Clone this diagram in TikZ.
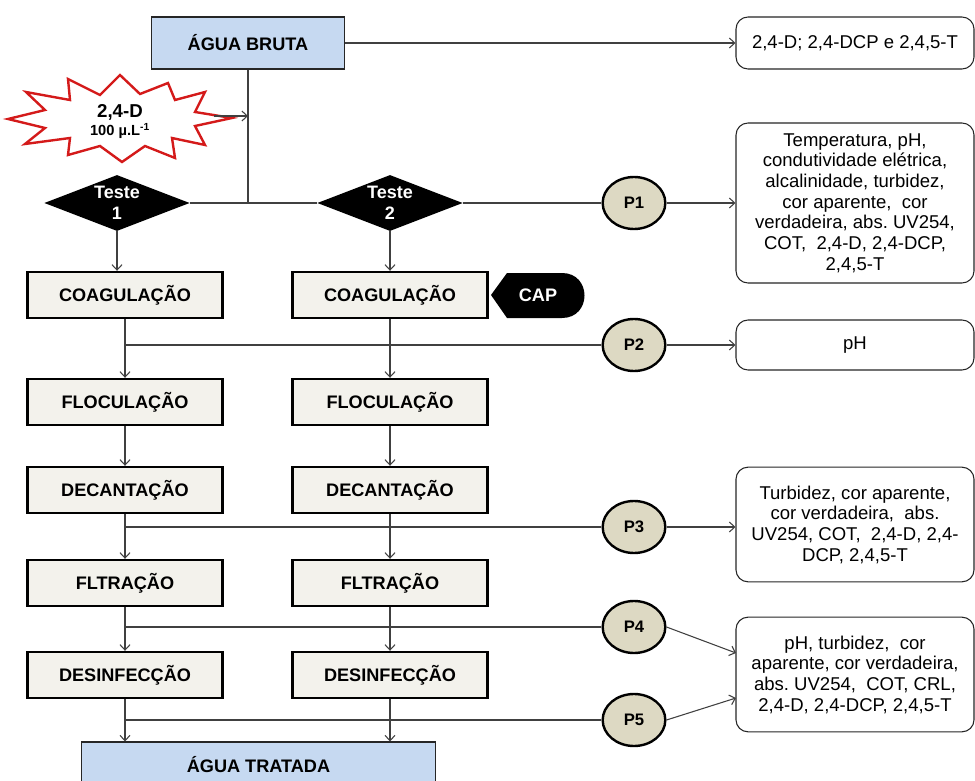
\documentclass[tikz,border=0pt]{standalone}
\usepackage{fontspec}
\setmainfont{Liberation Sans}
\usetikzlibrary{shapes.geometric,arrows.meta}
\definecolor{bluebox}{HTML}{C6D9F1}
\definecolor{procfill}{HTML}{F3F2EC}
\definecolor{pfill}{HTML}{DDD9C3}
\definecolor{linec}{HTML}{404040}
\definecolor{burstc}{HTML}{D41A1A}
\tikzset{
  proc/.style={draw=black, line width=1.8pt, fill=procfill, minimum width=146pt, minimum height=34.5pt, inner sep=0pt, font=\fontsize{13.6}{15}\selectfont\bfseries},
  waterbox/.style={draw=black!85, line width=0.8pt, fill=bluebox, inner sep=0pt, font=\fontsize{13.6}{15}\selectfont\bfseries},
  info/.style={draw=black!85, line width=0.8pt, rounded corners=9pt, fill=white, align=center, inner sep=0pt, minimum width=178.5pt, font=\fontsize{13.9}{15.5}\selectfont},
  ptnode/.style={ellipse, draw=black, line width=1.8pt, fill=pfill, minimum width=47pt, minimum height=39pt, inner sep=0pt, font=\fontsize{12.5}{14}\selectfont\bfseries},
  teste/.style={diamond, fill=black, minimum width=109pt, minimum height=42pt, inner sep=0pt},
  testetxt/.style={text=white, align=center, inner sep=0pt, font=\fontsize{13.5}{16}\selectfont\bfseries},
  conn/.style={draw=linec, line width=0.8pt},
  arr/.style={conn, -{Straight Barb[length=4pt,width=7.5pt]}},
}
\begin{document}
\begin{tikzpicture}[x=0.75pt,y=-0.75pt]
\useasboundingbox (0,0) rectangle (975,781);

% top water box and info box
\node[waterbox, minimum width=145pt, minimum height=39pt] (ab) at (248,43) {ÁGUA BRUTA};
\node[info, minimum height=39pt] (r1) at (855,43) {2,4-D; 2,4-DCP e 2,4,5-T};
\draw[arr] (ab.east) -- (r1.west);

% starburst
\draw[burstc, line width=1.8pt, fill=white, line join=miter]
  (8,119) -- (45,110) -- (26,92) -- (70,100) -- (68,79) -- (100,95) -- (120,75) -- (140,94)
  -- (168,83) -- (175,100) -- (205,92) -- (195,112) -- (232,118) -- (195,126) -- (205,145)
  -- (172,138) -- (175,158) -- (145,146) -- (122,162) -- (100,146) -- (68,155) -- (70,138)
  -- (25,144) -- (45,128) -- cycle;
\node[font=\fontsize{14}{15}\selectfont\bfseries, inner sep=0pt] (bt1) at (120,112) {2,4-D};
\node[font=\fontsize{11}{12}\selectfont\bfseries, inner sep=0pt] (bt2) at (120,131) {100 µ.L\textsuperscript{-1}};
\coordinate (bs) at (214,116);

% diamonds
\node[teste] (t1) at (117,203) {};
\node[testetxt] (t1t) at (t1) {Teste\\1};
\node[teste] (t2) at (390,203) {};
\node[testetxt] (t2t) at (t2) {Teste\\2};
\coordinate (j) at (248,203);
\draw[conn] (ab.south) -- (j);
\draw[arr] (bs) -- (bs -| j);
\draw[conn] (t1.east) -- (t2.west);

% P nodes
\node[ptnode] (p1) at (634,203) {P1};
\node[ptnode] (p2) at (634,345) {P2};
\node[ptnode] (p3) at (634,527) {P3};
\node[ptnode] (p4) at (634,627) {P4};
\node[ptnode] (p5) at (634,720) {P5};

% info boxes
\node[info, minimum height=120pt] (r2) at (855,203) {Temperatura, pH,\\condutividade elétrica,\\alcalinidade, turbidez,\\cor aparente,\ \ cor\\verdadeira, abs.\ UV254,\\COT,\ \ 2,4-D, 2,4-DCP,\\2,4,5-T};
\node[info, minimum height=37.5pt] (r3) at (855,345) {pH};
\node[info, minimum height=86pt] (r4) at (855,524.5) {Turbidez, cor aparente,\\cor verdadeira,\ \ abs.\\UV254, COT,\ \ 2,4-D, 2,4-\\DCP, 2,4,5-T};
\node[info, minimum height=86pt] (r5) at (855,674.5) {pH, turbidez,\ \ cor\\aparente, cor verdadeira,\\abs.\ UV254,\ \ COT, CRL,\\2,4-D, 2,4-DCP, 2,4,5-T};
\coordinate (r5a) at (736,653);
\coordinate (r5b) at (736,698);

% process boxes
\node[proc] (c1) at (125,295) {COAGULAÇÃO};
\node[proc] (f1) at (125,402) {FLOCULAÇÃO};
\node[proc] (d1) at (125,490) {DECANTAÇÃO};
\node[proc] (l1) at (125,583) {FLTRAÇÃO};
\node[proc] (s1) at (125,675) {DESINFECÇÃO};
\node[proc] (c2) at (390,295) {COAGULAÇÃO};
\node[proc] (f2) at (390,402) {FLOCULAÇÃO};
\node[proc] (d2) at (390,490) {DECANTAÇÃO};
\node[proc] (l2) at (390,583) {FLTRAÇÃO};
\node[proc] (s2) at (390,675) {DESINFECÇÃO};
\node[waterbox, minimum width=265pt, minimum height=34.5pt] (at) at (258.5,765) {ÁGUA TRATADA};

% CAP
\fill[black] (491,295) -- (507,273) -- (562,273) .. controls (592,273) and (592,318) .. (562,318) -- (507,318) -- cycle;
\node[text=white, inner sep=0pt, font=\fontsize{13.6}{15}\selectfont\bfseries] (cap) at (538,295) {CAP};

% horizontal measurement lines
\draw[conn] (t2.east) -- (p1);
\draw[conn] (c1.south |- p2) -- (p2);
\draw[conn] (c1.south |- p3) -- (p3);
\draw[conn] (c1.south |- p4) -- (p4);
\draw[conn] (c1.south |- p5) -- (p5);

% arrows to info boxes
\draw[arr] (p1.east) -- (p1.east -| r2.west);
\draw[arr] (p2.east) -- (p2.east -| r3.west);
\draw[arr] (p3.east) -- (p3.east -| r4.west);
\draw[arr] (p4.east) -- (r5a);
\draw[arr] (p5.east) -- (r5b);

% column arrows
\draw[arr] (t1.south) -- (t1.south |- c1.north);
\draw[arr] (c1.south) -- (f1.north);
\draw[arr] (f1.south) -- (d1.north);
\draw[arr] (d1.south) -- (l1.north);
\draw[arr] (l1.south) -- (s1.north);
\draw[arr] (s1.south) -- (s1.south |- at.north);
\draw[arr] (t2.south) -- (c2.north);
\draw[arr] (c2.south) -- (f2.north);
\draw[arr] (f2.south) -- (d2.north);
\draw[arr] (d2.south) -- (l2.north);
\draw[arr] (l2.south) -- (s2.north);
\draw[arr] (s2.south) -- (s2.south |- at.north);
\end{tikzpicture}
\end{document}
